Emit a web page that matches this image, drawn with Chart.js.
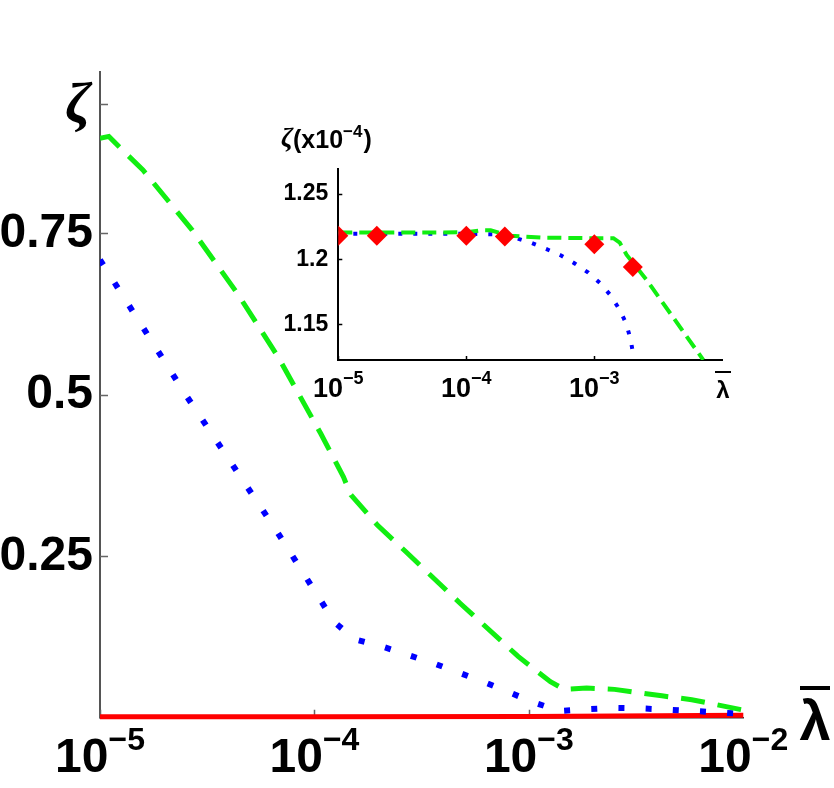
<!DOCTYPE html>
<html>
<head>
<meta charset="UTF-8">
<title>zeta vs lambda</title>
<script src="https://cdn.jsdelivr.net/npm/chart.js"></script>
<style>
    body { margin: 0; background: #fff; }
    .wrap { position: relative; width: 834px; height: 788px; }
    .wrap canvas { position: absolute; left: 0; top: 0; }
    #inset { pointer-events: none; }
</style>
</head>
<body>
<div class="wrap">
    <canvas id="main" width="834" height="788"></canvas>
    <canvas id="inset" width="834" height="788"></canvas>
</div>
<script>
// main plot data (lambda bar, zeta)
const greenX = [1e-5, 1.1e-5, 1.29e-5, 1.585e-5, 2.69e-5, 4.37e-5, 6.76e-5, 1.07e-4, 1.365e-4, 1.48e-4, 1.97e-4, 2.67e-4, 4.79e-4, 8.91e-4, 1.26e-3, 1.46e-3, 1.86e-3, 2.51e-3, 4.17e-3, 5.75e-3, 1e-2];
const greenY = [0.897, 0.900, 0.877, 0.848, 0.755, 0.657, 0.559, 0.440, 0.373, 0.345, 0.298, 0.257, 0.177, 0.095, 0.056, 0.044, 0.046, 0.044, 0.034, 0.028, 0.012];
const blueX = [1e-5, 2.51e-5, 6.61e-5, 1.24e-4, 1.54e-4, 2.04e-4, 3.55e-4, 6.12e-4, 1.05e-3, 1.39e-3, 1.85e-3, 2.47e-3, 3.3e-3, 5.93e-3, 1e-2];
const blueY = [0.709, 0.500, 0.291, 0.148, 0.1215, 0.111, 0.085, 0.056, 0.024, 0.0105, 0.0132, 0.0152, 0.0147, 0.0105, 0.006];
const redX = [1e-5, 1e-4, 1e-3, 1e-2];
const redY = [0.0015, 0.0015, 0.002, 0.004];
const mainYTicks = [0.25, 0.5, 0.75, 0.95];
const mainYLabeled = [0.25, 0.5, 0.75];
const mainXExp = [-5, -4, -3, -2];

// inset data (zeta x 1e-4)
const inGreenX = [1e-5, 1e-4, 1.3e-4, 1.55e-4, 2.2e-4, 4e-4, 1e-3, 1.41e-3, 1.58e-3, 1.79e-3, 2.56e-3, 7.1e-3];
const inGreenY = [1.2204, 1.2206, 1.2222, 1.2222, 1.218, 1.2165, 1.2161, 1.2161, 1.2127, 1.2033, 1.1841, 1.1227];
const inBlueX = [1e-5, 1e-4, 1.8e-4, 2.33e-4, 3.18e-4, 4.2e-4, 5.5e-4, 6.98e-4, 8.97e-4, 1.11e-3, 1.33e-3, 1.57e-3, 1.77e-3, 1.92e-3, 2.02e-3];
const inBlueY = [1.2195, 1.2195, 1.219, 1.2169, 1.2127, 1.2079, 1.2028, 1.1969, 1.1897, 1.1816, 1.1726, 1.1616, 1.1509, 1.1386, 1.126];
const inRedX = [1e-5, 2e-5, 1e-4, 2e-4, 1e-3, 2e-3];
const inRedY = [1.218, 1.218, 1.218, 1.2175, 1.2115, 1.194];
const inYTicks = [1.15, 1.2, 1.25];
const inXExp = [-5, -4, -3];

const FONT = '"Liberation Sans", Arial, sans-serif';
Chart.defaults.font.family = FONT;
Chart.defaults.color = '#000';

function pts(xs, ys) {
    return xs.map((x, i) => ({ x: x, y: ys[i] }));
}

// draws "10" with a raised exponent, centred on cx
function drawPow(ctx, cx, base, exp, big, small, raise) {
    const b = '10', e = '\u2212' + Math.abs(exp);
    ctx.font = 'bold ' + big + 'px ' + FONT;
    const w1 = ctx.measureText(b).width;
    ctx.font = 'bold ' + small + 'px ' + FONT;
    const w2 = ctx.measureText(e).width;
    const x0 = cx - (w1 + w2) / 2;
    ctx.font = 'bold ' + big + 'px ' + FONT;
    ctx.fillText(b, x0, base);
    ctx.font = 'bold ' + small + 'px ' + FONT;
    ctx.fillText(e, x0 + w1, base - raise);
}

const decor = {
    id: 'decor',
    beforeDatasetsDraw(chart, args, o) {
        const ctx = chart.ctx, a = chart.chartArea;
        const xs = chart.scales.x, ys = chart.scales.y;
        ctx.save();
        ctx.strokeStyle = o.tickColor;
        ctx.lineWidth = o.tickWidth;
        ctx.beginPath();
        o.yTicks.forEach(v => {
            const py = Math.round(ys.getPixelForValue(v)) + 0.5;
            ctx.moveTo(a.left, py);
            ctx.lineTo(a.left + o.tickLen, py);
        });
        o.xExp.forEach(e => {
            const px = Math.round(xs.getPixelForValue(Math.pow(10, e))) + 0.5;
            ctx.moveTo(px, a.bottom);
            ctx.lineTo(px, a.bottom - o.tickLen);
        });
        ctx.stroke();
        ctx.restore();
    },
    afterDraw(chart, args, o) {
        const ctx = chart.ctx;
        const xs = chart.scales.x;
        ctx.save();
        ctx.fillStyle = '#000';
        ctx.textAlign = 'left';
        ctx.textBaseline = 'alphabetic';
        o.xLabels.forEach(e => {
            drawPow(ctx, xs.getPixelForValue(Math.pow(10, e)), o.labelBase, e, o.big, o.small, o.raise);
        });
        // lambda bar
        const L = o.lambda;
        ctx.font = 'bold ' + L.size + 'px ' + FONT;
        ctx.textAlign = 'center';
        ctx.fillText('\u03bb', L.x, L.base);
        ctx.fillRect(L.x - L.bar / 2, L.barY, L.bar, L.barH);
        // zeta title
        const Z = o.zeta;
        ctx.font = 'italic bold ' + Z.size + 'px "Liberation Serif", serif';
        ctx.textAlign = 'center';
        ctx.fillText('\u03b6', Z.x, Z.base);
        if (Z.suffix) {
            ctx.textAlign = 'left';
            let x = Z.sx;
            ctx.font = 'bold ' + Z.fs + 'px ' + FONT;
            ctx.fillText('(x10', x, Z.sbase);
            x += ctx.measureText('(x10').width;
            ctx.font = 'bold ' + Z.fsup + 'px ' + FONT;
            ctx.fillText('\u22124', x, Z.sbase - Z.raise);
            x += ctx.measureText('\u22124').width + 1;
            ctx.font = 'bold ' + Z.fs + 'px ' + FONT;
            ctx.fillText(')', x, Z.sbase);
        }
        ctx.restore();
    }
};

new Chart(document.getElementById('main'), {
    type: 'line',
    data: {
        datasets: [
            { data: pts(greenX, greenY), borderColor: '#11ee11', borderWidth: 5, borderDash: [24, 13], pointRadius: 0 },
            { data: pts(blueX, blueY), borderColor: '#0000ff', borderWidth: 6, borderDash: [6, 21.2], pointRadius: 0 },
            { data: pts(redX, redY), borderColor: '#ff0000', borderWidth: 5, pointRadius: 0, clip: false }
        ]
    },
    options: {
        responsive: false,
        animation: false,
        events: [],
        layout: { padding: { top: 71.8, right: 90.7, left: 0, bottom: 0 } },
        plugins: {
            legend: { display: false },
            tooltip: { enabled: false },
            decor: {
                tickColor: '#666', tickWidth: 1.5, tickLen: 8,
                yTicks: mainYTicks, xExp: [-5, -4, -3],
                xLabels: mainXExp, labelBase: 772, big: 48, small: 32, raise: 22,
                lambda: { size: 56, x: 815, base: 740, bar: 30, barY: 686, barH: 4 },
                zeta: { size: 58, x: 78, base: 122 }
            }
        },
        scales: {
            x: {
                type: 'logarithmic', min: 1e-5, max: 1e-2,
                grid: { display: false, drawTicks: false },
                ticks: { display: false },
                border: { color: '#333', width: 1.5 },
                afterFit: s => { s.height = 70.2; }
            },
            y: {
                min: 0, max: 1,
                grid: { display: false, drawTicks: false },
                afterBuildTicks: s => { s.ticks = mainYTicks.map(v => ({ value: v })); },
                ticks: {
                    font: { size: 48, weight: 'bold' }, color: '#000', padding: 7,
                    callback: v => (mainYLabeled.includes(v) ? String(v) : '')
                },
                border: { color: '#555', width: 2 },
                afterFit: s => { s.width = 100; }
            }
        }
    },
    plugins: [decor]
});

new Chart(document.getElementById('inset'), {
    type: 'line',
    data: {
        datasets: [
            { data: pts(inRedX, inRedY), showLine: false, pointStyle: 'rectRot', pointRadius: 10,
              pointBackgroundColor: '#ff0000', pointBorderColor: '#ff0000', pointBorderWidth: 0, clip: 0 },
            { data: pts(inGreenX, inGreenY), borderColor: '#11ee11', borderWidth: 4, borderDash: [14, 7], pointRadius: 0 },
            { data: pts(inBlueX, inBlueY), borderColor: '#0000ff', borderWidth: 4, borderDash: [4, 11], pointRadius: 0 }
        ]
    },
    options: {
        responsive: false,
        animation: false,
        events: [],
        layout: { padding: { top: 169.3, right: 111.7, left: 0, bottom: 0 } },
        plugins: {
            legend: { display: false },
            tooltip: { enabled: false },
            decor: {
                tickColor: '#000', tickWidth: 1.5, tickLen: 4,
                yTicks: inYTicks, xExp: inXExp,
                xLabels: inXExp, labelBase: 396.7, big: 27, small: 18, raise: 12.5,
                lambda: { size: 24, x: 723, base: 398, bar: 16, barY: 371, barH: 2 },
                zeta: { size: 27, x: 287, base: 146, suffix: true, sx: 293, sbase: 148, fs: 25, fsup: 17, raise: 11 }
            }
        },
        scales: {
            x: {
                type: 'logarithmic', min: 1e-5, max: 1e-2,
                grid: { display: false, drawTicks: false },
                ticks: { display: false },
                border: { color: '#000', width: 2 },
                afterFit: s => { s.height = 428; }
            },
            y: {
                min: 1.1226, max: 1.269,
                grid: { display: false, drawTicks: false },
                afterBuildTicks: s => { s.ticks = inYTicks.map(v => ({ value: v })); },
                ticks: { font: { size: 23, weight: 'bold' }, color: '#000', padding: 10, callback: v => String(v) },
                border: { color: '#000', width: 2 },
                afterFit: s => { s.width = 338.3; }
            }
        }
    },
    plugins: [decor]
});
</script>
</body>
</html>
